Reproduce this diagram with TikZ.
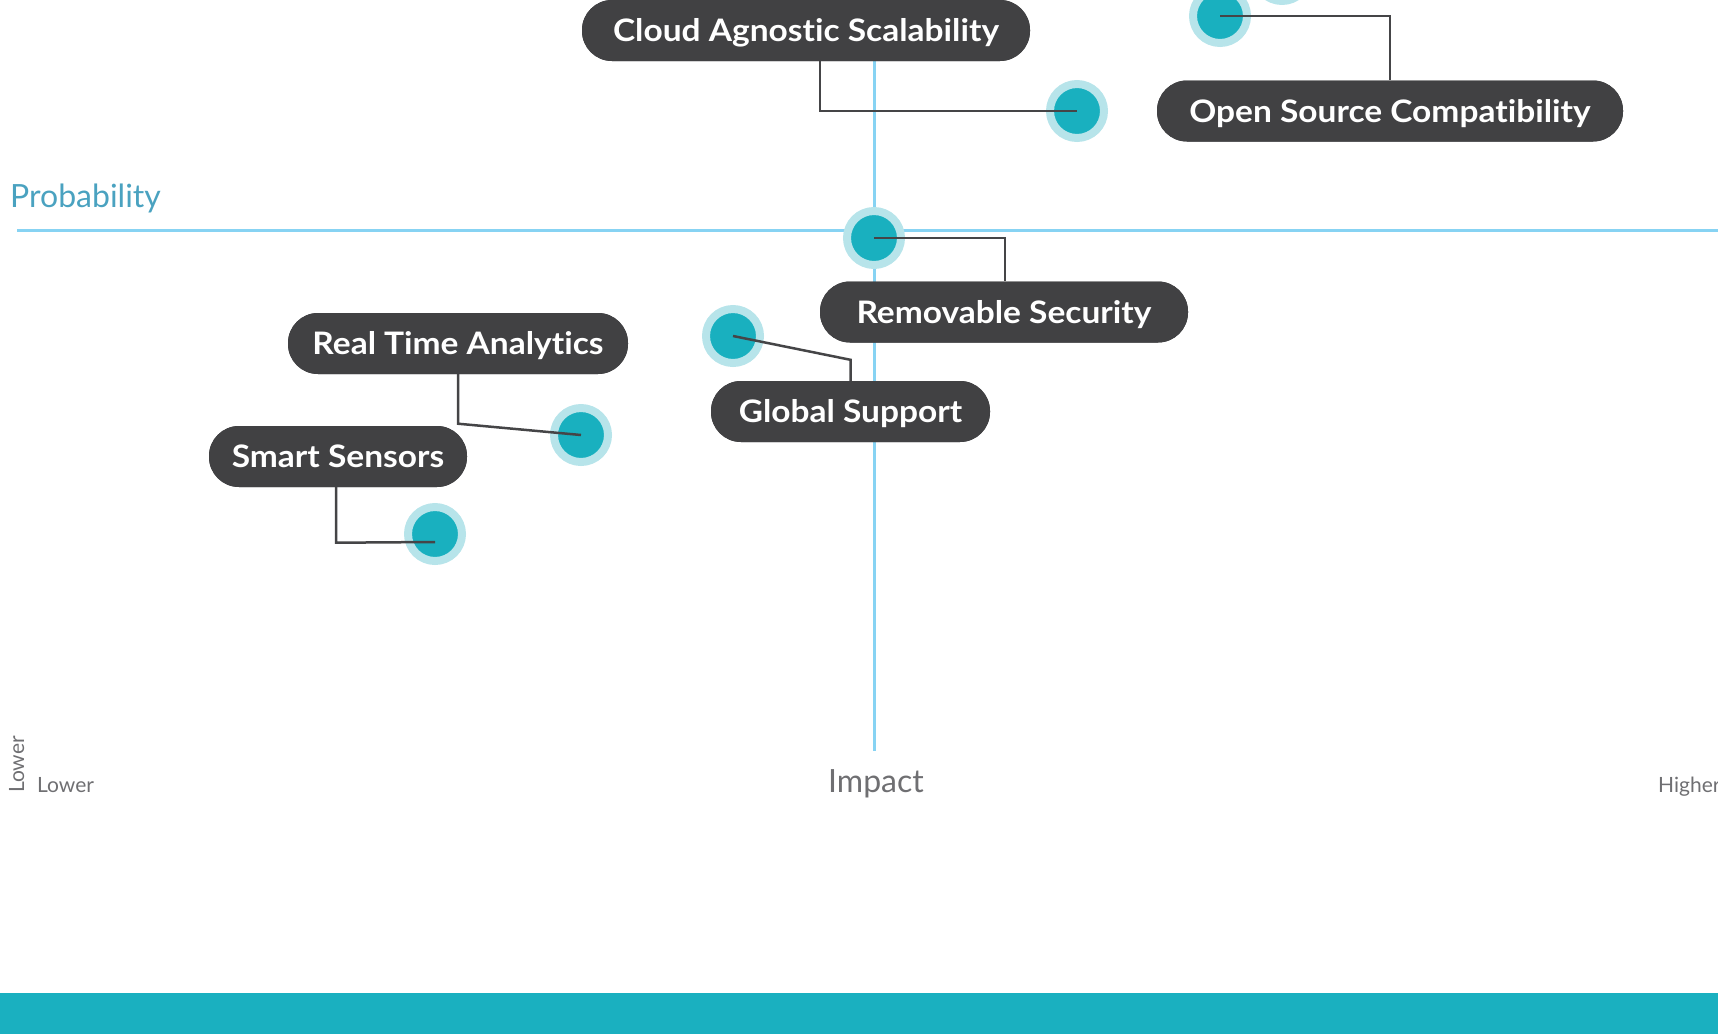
\documentclass[tikz,border=0pt]{standalone}
\usepackage{fontspec}
\setmainfont{Lato}[Ligatures=NoCommon]
\newfontfamily\tagfont{Lato}[Ligatures=NoCommon,FakeStretch=1.08]
\usetikzlibrary{calc}

\definecolor{boxgray}{HTML}{414143}
\definecolor{wiregray}{HTML}{454547}
\definecolor{dotteal}{HTML}{19B0BF}
\definecolor{halo}{HTML}{B7E4EA}
\definecolor{axisblue}{HTML}{87D3F3}
\definecolor{probblue}{HTML}{4AA2C0}
\definecolor{textgray}{HTML}{6F6F72}
\definecolor{band}{HTML}{1AB0C0}

\begin{document}
\begin{tikzpicture}[x=1pt,y=-1pt,
  axisline/.style={draw=axisblue,line width=3pt},
  wire/.style={draw=wiregray,line width=2.5pt},
  riskdot/.style={circle,fill=dotteal,draw=halo,line width=8pt,
    inner sep=0pt,minimum size=54pt},
  tag/.style={fill=boxgray,text=white,rounded corners=30pt,
    minimum height=61pt,inner sep=0pt,text height=22pt,text depth=0pt,
    font=\tagfont\fontsize{31}{31}\selectfont\bfseries},
  axislabel/.style={inner sep=0pt,text=textgray,
    font=\fontsize{21}{21}\selectfont},
]
\useasboundingbox (0,0) rectangle (1718,1034);

% footer band
\fill[band] (0,993) rectangle (1718,1034);

% axes
\coordinate (hl) at (17,230.5);
\coordinate (hr) at (1718,230.5);
\coordinate (vt) at (874.5,0);
\coordinate (vb) at (874.5,751);
\draw[axisline] (hl) -- (hr);
\draw[axisline] (vt) -- (vb);

% axis titles
\node[anchor=base west,inner sep=0pt,text=probblue,
  font=\fontsize{32}{32}\selectfont] (prob) at (10,207) {Probability};
\node[anchor=base,inner sep=0pt,text=textgray,
  font=\fontsize{32}{32}\selectfont] (impact) at (876,792) {Impact};
\node[axislabel,anchor=base west] (xlow) at (37,792) {Lower};
\node[axislabel,anchor=base west] (xhigh) at (1658,792) {Higher};
\node[axislabel,anchor=base west,rotate=90] (ylow) at (24,793) {Lower};

% risk markers
\node[riskdot] (dtop)   at (1282,-26) {};
\node[riskdot] (dcloud) at (1077,111) {};
\node[riskdot] (dopen)  at (1220,16) {};
\node[riskdot] (dsec)   at (874,238) {};
\node[riskdot] (dglob)  at (733,336) {};
\node[riskdot] (dreal)  at (581,435) {};
\node[riskdot] (dsens)  at (435,534) {};

% label positions
\coordinate (pcloud) at (806,30.5);
\coordinate (popen)  at (1390,111);
\coordinate (psec)   at (1004,312);
\coordinate (preal)  at (458,343.5);
\coordinate (psens)  at (338,456.5);
\coordinate (pglob)  at (850.5,411.5);

% label boxes (placed first so leader lines can use their anchors)
\node[tag,minimum width=448pt] (cloud) at (pcloud) {Cloud Agnostic Scalability};
\node[tag,minimum width=466pt] (open)  at (popen)  {Open Source Compatibility};
\node[tag,minimum width=368pt] (sec)   at (psec)   {Removable Security};
\node[tag,minimum width=340pt] (real)  at (preal)  {Real Time Analytics};
\node[tag,minimum width=258pt] (sens)  at (psens)  {Smart Sensors};
\node[tag,minimum width=279pt] (glob)  at (pglob)  {Global Support};

% leader lines
\draw[wire] ($(cloud.south)+(14,0)$) |- (dcloud.center);
\draw[wire] (dopen.center) -| (open.north);
\draw[wire] (dsec.center) -| ($(sec.north)+(1,0)$);
\draw[wire] (real.south) -- ++(0,49.5) -- (dreal.center);
\draw[wire] ($(sens.south)+(-2,0)$) -- ++(0,55.5) -- ($(dsens.center)+(0,8)$);
\draw[wire] (dglob.center) -- ($(glob.north)+(0,-21)$) -- (glob.north);

% label boxes again, on top of the leader ends
\node[tag,minimum width=448pt] at (pcloud) {Cloud Agnostic Scalability};
\node[tag,minimum width=466pt] at (popen)  {Open Source Compatibility};
\node[tag,minimum width=368pt] at (psec)   {Removable Security};
\node[tag,minimum width=340pt] at (preal)  {Real Time Analytics};
\node[tag,minimum width=258pt] at (psens)  {Smart Sensors};
\node[tag,minimum width=279pt] at (pglob)  {Global Support};
\end{tikzpicture}
\end{document}
